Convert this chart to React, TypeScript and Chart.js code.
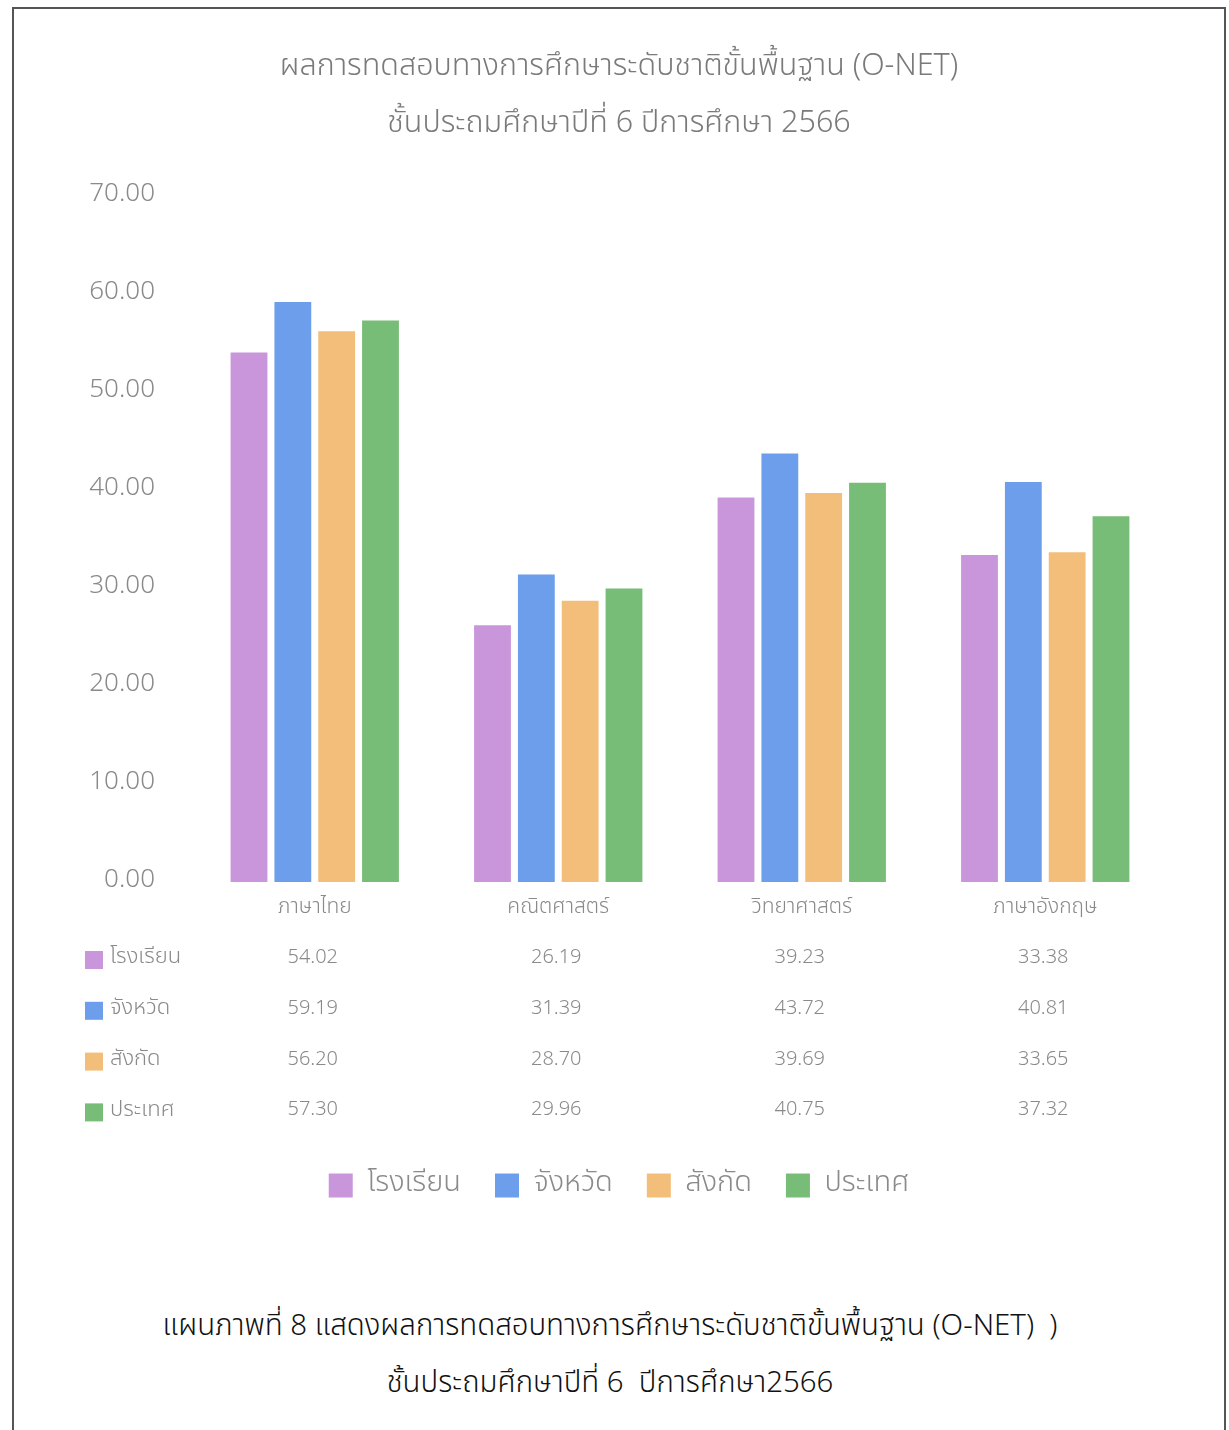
import React, { useEffect, useRef } from "react";
import { Chart, registerables } from "chart.js";
Chart.register(...registerables);

const categories = ["ภาษาไทย", "คณิตศาสตร์", "วิทยาศาสตร์", "ภาษาอังกฤษ"];
const seriesNames = ["โรงเรียน", "จังหวัด", "สังกัด", "ประเทศ"];
const schoolValues = [54.02, 26.19, 39.23, 33.38];
const provinceValues = [59.19, 31.39, 43.72, 40.81];
const affiliationValues = [56.2, 28.7, 39.69, 33.65];
const countryValues = [57.3, 29.96, 40.75, 37.32];
const seriesColors = ["#c996db", "#6d9eeb", "#f2be7a", "#77bc77"];
const yMin = 0;
const yMax = 70;
const yStep = 10;
const titleLines = [
  "ผลการทดสอบทางการศึกษาระดับชาติขั้นพื้นฐาน (O-NET)",
  "ชั้นประถมศึกษาปีที่ 6 ปีการศึกษา 2566",
];
const captionLines = [
  "แผนภาพที่ 8 แสดงผลการทดสอบทางการศึกษาระดับชาติขั้นพื้นฐาน (O-NET)  )",
  "ชั้นประถมศึกษาปีที่ 6  ปีการศึกษา2566",
];

const FONT = "'Noto Sans Thai', 'Noto Sans', 'Open Sans', sans-serif";
const CANVAS_W = 1210;
const CANVAS_H = 1201;

const tablePlugin = {
  id: "dataTable",
  afterDraw(chart: any) {
    const ctx = chart.ctx;
    const xScale = chart.scales.x;
    const area = chart.chartArea;
    ctx.save();
    ctx.textBaseline = "middle";
    chart.data.datasets.forEach((ds: any, i: number) => {
      const y = area.bottom + 77 + i * 50.8;
      ctx.fillStyle = ds.backgroundColor;
      ctx.fillRect(71, y - 8, 18, 18);
      ctx.fillStyle = "#8a8a8a";
      ctx.textAlign = "left";
      ctx.font = `300 22px ${FONT}`;
      ctx.fillText(ds.label, 96, y);
      ctx.textAlign = "center";
      ctx.font = `300 20px ${FONT}`;
      ds.data.forEach((v: number, j: number) => {
        ctx.fillText(v.toFixed(2), xScale.getPixelForValue(j) - 2, y);
      });
    });
    ctx.restore();
  },
};

export default function App() {
  const ref = useRef<HTMLCanvasElement | null>(null);
  useEffect(() => {
    if (!ref.current) return;
    const allSeries = [schoolValues, provinceValues, affiliationValues, countryValues];
    const chart = new Chart(ref.current, {
      type: "bar",
      data: {
        labels: categories,
        datasets: allSeries.map((vals, i) => ({
          label: seriesNames[i],
          data: vals,
          backgroundColor: seriesColors[i],
          borderWidth: 0,
          categoryPercentage: 0.72,
          barPercentage: 0.84,
        })),
      },
      options: {
        animation: false,
        responsive: false,
        devicePixelRatio: 1,
        layout: { padding: { left: 0, right: 0, top: 0, bottom: 0 } },
        plugins: {
          title: {
            display: true,
            text: titleLines,
            color: "#7a7a7a",
            font: { family: FONT, size: 30.5, weight: "300", lineHeight: "57px" },
            padding: { top: 31, bottom: 42 },
          },
          legend: {
            position: "bottom",
            labels: {
              boxWidth: 24,
              boxHeight: 24,
              padding: 34,
              color: "#8a8a8a",
              font: { family: FONT, size: 29, weight: "300" },
            },
          },
          tooltip: { enabled: false },
        },
        scales: {
          x: {
            grid: { display: false, drawTicks: false },
            border: { display: false },
            ticks: {
              color: "#8a8a8a",
              padding: 14,
              font: { family: FONT, size: 21, weight: "300" },
            },
            afterFit: (scale: any) => {
              scale.height = 255;
            },
          },
          y: {
            min: yMin,
            max: yMax,
            grid: { display: false, drawTicks: false },
            border: { display: false },
            ticks: {
              stepSize: yStep,
              color: "#8a8a8a",
              padding: 38,
              font: { family: FONT, size: 26, weight: "300" },
              callback: (v: any) => Number(v).toFixed(2),
            },
            afterFit: (scale: any) => {
              scale.width = 179;
            },
          },
          yRight: {
            type: "linear",
            position: "right",
            display: true,
            grid: { display: false, drawTicks: false },
            border: { display: false },
            ticks: { display: false },
            afterFit: (scale: any) => {
              scale.width = 57;
            },
          },
        },
      },
      plugins: [tablePlugin],
    });
    return () => chart.destroy();
  }, []);

  return (
    <div
      style={{
        position: "absolute",
        left: 12,
        top: 7,
        width: CANVAS_W,
        height: 1440,
        border: "2px solid #555",
        background: "#fff",
        fontFamily: FONT,
      }}
    >
      <canvas
        ref={ref}
        width={CANVAS_W}
        height={CANVAS_H}
        style={{ position: "absolute", left: 0, top: 0, width: CANVAS_W, height: CANVAS_H }}
      />
      {captionLines.map((line, i) => (
        <div
          key={i}
          style={{
            position: "absolute",
            left: 0,
            width: 1192,
            top: 1299 + i * 57,
            textAlign: "center",
            fontSize: 29.4,
            lineHeight: "36px",
            color: "#111",
            whiteSpace: "pre",
            fontWeight: 300,
          }}
        >
          {line}
        </div>
      ))}
    </div>
  );
}
